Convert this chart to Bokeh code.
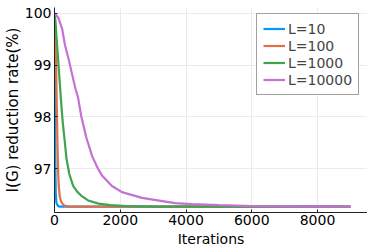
from bokeh.plotting import figure
from bokeh.models import Legend, LegendItem, FixedTicker, Range1d
from bokeh.embed import file_html
from bokeh.resources import INLINE

# Data
labels = ["L=10", "L=100", "L=1000", "L=10000"]
colors = ["#009AFA", "#E36F47", "#3EA44E", "#C371D2"]

x_L10 = [0, 10, 20, 30, 40, 60, 100, 160, 300, 9000]
y_L10 = [100, 99.2, 97.9, 96.9, 96.5, 96.34, 96.29, 96.27, 96.27, 96.27]

x_L100 = [0, 30, 50, 70, 90, 110, 130, 160, 200, 260, 350, 500, 9000]
y_L100 = [100, 99.5, 98.9, 98.2, 97.5, 96.95, 96.66, 96.47, 96.37, 96.31, 96.28, 96.27, 96.27]

x_L1000 = [0, 30, 60, 100, 150, 200, 250, 300, 364, 450, 567, 700, 818,
           1021, 1343, 1700, 2200, 3000, 9000]
y_L1000 = [100, 99.85, 99.55, 99.2, 98.75, 98.3, 97.9, 97.6, 97.2, 96.9, 96.67,
           96.55, 96.48, 96.39, 96.33, 96.30, 96.28, 96.27, 96.27]

x_L10000 = [0, 112, 233, 315, 436, 515, 636, 718, 818, 970, 1142, 1300, 1445,
            1748, 2052, 2658, 3667, 4172, 5000, 6000, 7500, 9000]
y_L10000 = [100, 99.92, 99.7, 99.4, 99.1, 98.88, 98.55, 98.37, 98.0, 97.6, 97.25,
            97.03, 96.87, 96.67, 96.55, 96.44, 96.34, 96.32, 96.30, 96.28, 96.27, 96.27]

x_ticks = [0, 2000, 4000, 6000, 8000]
y_ticks = [97, 98, 99, 100]

xlabel = "Iterations"
ylabel = "I(G) reduction rate(%)"

series = [(x_L10, y_L10), (x_L100, y_L100), (x_L1000, y_L1000), (x_L10000, y_L10000)]

p = figure(width=367, height=249, output_backend="svg", toolbar_location=None,
           x_range=Range1d(0, 9520), y_range=Range1d(96.158, 100.112),
           min_border_left=0, min_border_right=0, min_border_top=7, min_border_bottom=37)
p.outline_line_color = None
p.background_fill_color = "white"
p.border_fill_color = "white"

items = []
for (xs, ys), lab, col in zip(series, labels, colors):
    r = p.line(xs, ys, line_color=col, line_width=2.2)
    items.append(LegendItem(label=lab, renderers=[r]))

font = "DejaVu Sans"
for ax in (p.xaxis[0], p.yaxis[0]):
    ax.axis_line_color = "#222222"
    ax.axis_line_width = 1
    ax.major_tick_in = 3
    ax.major_tick_out = 0
    ax.minor_tick_in = 0
    ax.minor_tick_out = 0
    ax.major_tick_line_color = "#222222"
    ax.major_label_text_font = font
    ax.major_label_text_font_size = "14px"
    ax.major_label_text_color = "black"
    ax.axis_label_text_font = font
    ax.axis_label_text_font_style = "normal"
    ax.axis_label_text_color = "black"

p.xaxis.ticker = FixedTicker(ticks=x_ticks)
p.yaxis.ticker = FixedTicker(ticks=y_ticks)
p.xaxis.axis_label = xlabel
p.yaxis.axis_label = ylabel
p.xaxis.axis_label_text_font_size = "14px"
p.yaxis.axis_label_text_font_size = "15px"
p.xaxis.major_label_standoff = 2
p.xaxis.axis_label_standoff = 3
p.yaxis.major_label_standoff = 3
p.yaxis.axis_label_standoff = 0

p.xgrid.grid_line_color = "#ebebeb"
p.ygrid.grid_line_color = "#ebebeb"
p.xgrid.ticker = FixedTicker(ticks=x_ticks)
p.ygrid.ticker = FixedTicker(ticks=y_ticks)

legend = Legend(items=items, location=(202, 117))
legend.label_text_font = font
legend.label_text_font_size = "14px"
legend.label_height = 17
legend.glyph_height = 17
legend.glyph_width = 22
legend.label_standoff = 3
legend.spacing = 0
legend.padding = 6
legend.margin = 0
legend.border_line_color = "#444444"
legend.border_line_width = 1
legend.background_fill_color = "white"
legend.background_fill_alpha = 1
p.add_layout(legend)

open("out.html", "w").write(file_html(p, INLINE))
